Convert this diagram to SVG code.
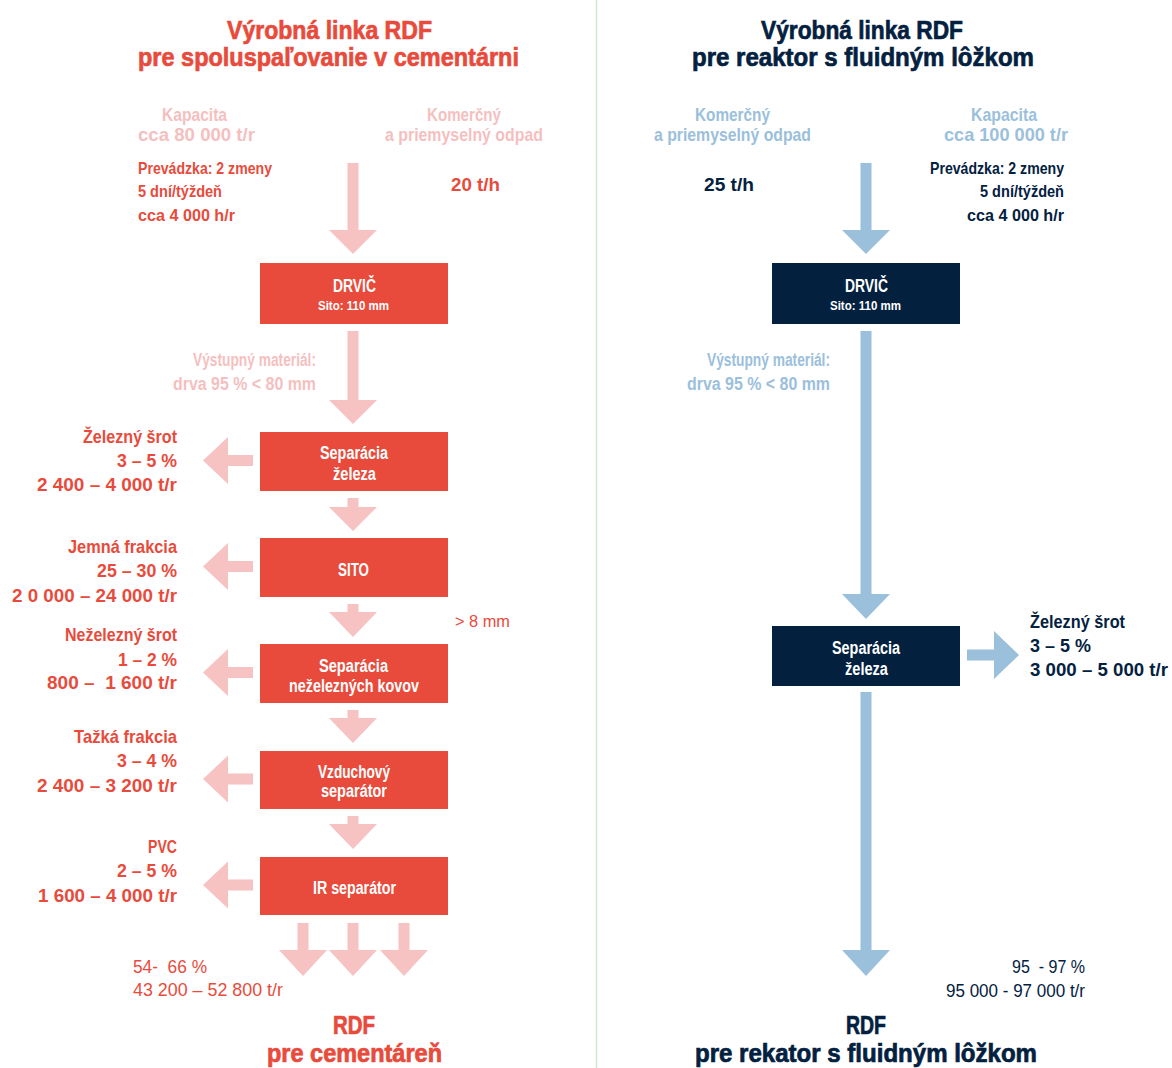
<svg xmlns="http://www.w3.org/2000/svg" width="1172" height="1068" viewBox="0 0 1172 1068">
  <style>
    text { font-family: "Liberation Sans Narrow", "Liberation Sans", "DejaVu Sans Condensed", sans-serif; font-stretch: condensed; font-weight: bold; }
    .reg { font-weight: normal; }
    .red { fill: #e84b3c; }
    .pink { fill: #f5bfc0; }
    .navy { fill: #03213f; }
    .blue { fill: #9bc0dc; }
    .white { fill: #ffffff; }
    .box-red { fill: #e84b3c; }
    .box-navy { fill: #03213f; }
    .arr-pink { fill: #f6c2c2; }
    .arr-blue { fill: #9bc0dc; }
    .title { font-size: 26.5px; stroke-width: 0.7px; }
    .product { font-size: 25px; stroke-width: 0.7px; }
    .heavy-red { stroke: #e84b3c; }
    .heavy-navy { stroke: #03213f; }
    .sub { font-size: 18.5px; }
    .info { font-size: 16.5px; }
    .lbl { font-size: 18.5px; }
    .node { font-size: 18px; }
  </style>

  <rect width="1172" height="1068" fill="#ffffff"/>

  <!-- divider between the two lines -->
  <line x1="596.5" y1="0" x2="596.5" y2="1068" stroke="#cfe8cf" stroke-width="1.5"/>

  <!-- headings -->
  <g id="title-left">
    <text class="title red heavy-red" x="227" y="39" textLength="205" lengthAdjust="spacingAndGlyphs">Výrobná linka RDF</text>
    <text class="title red heavy-red" x="138" y="66" textLength="381" lengthAdjust="spacingAndGlyphs">pre spoluspaľovanie v cementárni</text>
  </g>
  <g id="title-right">
    <text class="title navy heavy-navy" x="761" y="39" textLength="202" lengthAdjust="spacingAndGlyphs">Výrobná linka RDF</text>
    <text class="title navy heavy-navy" x="692" y="66" textLength="342" lengthAdjust="spacingAndGlyphs">pre reaktor s fluidným lôžkom</text>
  </g>

  <!-- connectors -->
  <g id="connectors">
    <!-- left line, vertical flow -->
    <polygon class="arr-pink" points="347.5,163 358.5,163 358.5,230 377,230 353,254 329,230 347.5,230"/>
    <polygon class="arr-pink" points="347.5,331 358.5,331 358.5,400 377,400 353,424 329,400 347.5,400"/>
    <polygon class="arr-pink" points="347.5,498 358.5,498 358.5,507 377,507 353,531 329,507 347.5,507"/>
    <polygon class="arr-pink" points="347.5,604 358.5,604 358.5,612 377,612 353,637 329,612 347.5,612"/>
    <polygon class="arr-pink" points="347.5,710 358.5,710 358.5,718 377,718 353,743 329,718 347.5,718"/>
    <polygon class="arr-pink" points="347.5,816 358.5,816 358.5,824 377,824 353,849 329,824 347.5,824"/>
    <polygon class="arr-pink" points="297.5,923 308.5,923 308.5,950 327,950 303,976 279,950 297.5,950"/>
    <polygon class="arr-pink" points="347.5,923 358.5,923 358.5,950 377,950 353,976 329,950 347.5,950"/>
    <polygon class="arr-pink" points="398.5,923 409.5,923 409.5,950 428,950 404,976 380,950 398.5,950"/>
    <!-- left line, side outputs -->
    <polygon class="arr-pink" points="253,455 253,466 228,466 228,484 203,460.5 228,437 228,455"/>
    <polygon class="arr-pink" points="253,561 253,572 228,572 228,590 203,566.5 228,543 228,561"/>
    <polygon class="arr-pink" points="253,667 253,678 228,678 228,696 203,672.5 228,649 228,667"/>
    <polygon class="arr-pink" points="253,773.5 253,784.5 228,784.5 228,802.5 203,779 228,755.5 228,773.5"/>
    <polygon class="arr-pink" points="253,879.5 253,890.5 228,890.5 228,908.5 203,885 228,861.5 228,879.5"/>
    <!-- right line -->
    <polygon class="arr-blue" points="860.5,163 871.5,163 871.5,230 890,230 866,254 842,230 860.5,230"/>
    <polygon class="arr-blue" points="860.5,331 871.5,331 871.5,594 890,594 866,619 842,594 860.5,594"/>
    <polygon class="arr-blue" points="860.5,692 871.5,692 871.5,950 890,950 866,976 842,950 860.5,950"/>
    <polygon class="arr-blue" points="967,649.5 994,649.5 994,631 1019,655 994,679 994,660.5 967,660.5"/>
  </g>

  <!-- left line: inputs -->
  <g id="input-left">
    <text class="sub pink" x="162" y="121" textLength="65" lengthAdjust="spacingAndGlyphs">Kapacita</text>
    <text class="sub pink" x="138" y="141" textLength="117" lengthAdjust="spacingAndGlyphs">cca 80 000 t/r</text>
    <text class="sub pink" x="427" y="121" textLength="74" lengthAdjust="spacingAndGlyphs">Komerčný</text>
    <text class="sub pink" x="385" y="141" textLength="158" lengthAdjust="spacingAndGlyphs">a priemyselný odpad</text>
    <text class="info red" x="138" y="174" textLength="134" lengthAdjust="spacingAndGlyphs">Prevádzka: 2 zmeny</text>
    <text class="info red" x="138" y="197" textLength="84" lengthAdjust="spacingAndGlyphs">5 dní/týždeň</text>
    <text class="info red" x="138" y="221" textLength="97" lengthAdjust="spacingAndGlyphs">cca 4 000 h/r</text>
    <text class="sub red" x="451" y="191" textLength="49" lengthAdjust="spacingAndGlyphs">20 t/h</text>
  </g>

  <!-- right line: inputs -->
  <g id="input-right">
    <text class="sub blue" x="695" y="121" textLength="75" lengthAdjust="spacingAndGlyphs">Komerčný</text>
    <text class="sub blue" x="654" y="141" textLength="157" lengthAdjust="spacingAndGlyphs">a priemyselný odpad</text>
    <text class="sub blue" x="971" y="121" textLength="66" lengthAdjust="spacingAndGlyphs">Kapacita</text>
    <text class="sub blue" x="944" y="141" textLength="124" lengthAdjust="spacingAndGlyphs">cca 100 000 t/r</text>
    <text class="info navy" x="930" y="174" textLength="134" lengthAdjust="spacingAndGlyphs">Prevádzka: 2 zmeny</text>
    <text class="info navy" x="980" y="197" textLength="84" lengthAdjust="spacingAndGlyphs">5 dní/týždeň</text>
    <text class="info navy" x="967" y="221" textLength="97" lengthAdjust="spacingAndGlyphs">cca 4 000 h/r</text>
    <text class="sub navy" x="704" y="191" textLength="50" lengthAdjust="spacingAndGlyphs">25 t/h</text>
  </g>

  <!-- left line: process nodes -->
  <g id="drvic-left">
    <rect class="box-red" x="260" y="263" width="188" height="61"/>
    <text class="white" style="font-size:17.5px" x="333" y="292" textLength="43" lengthAdjust="spacingAndGlyphs">DRVIČ</text>
    <text class="white" style="font-size:13.5px" x="318" y="310" textLength="71" lengthAdjust="spacingAndGlyphs">Sito: 110 mm</text>
  </g>
  <g id="vystup-left">
    <text class="node pink" x="193" y="366" textLength="123" lengthAdjust="spacingAndGlyphs">Výstupný materiál:</text>
    <text class="node pink" x="173" y="390" textLength="143" lengthAdjust="spacingAndGlyphs">drva 95 % &lt; 80 mm</text>
  </g>
  <g id="separacia-zeleza-left">
    <rect class="box-red" x="260" y="432" width="188" height="59"/>
    <text class="node white" x="320" y="459" textLength="68" lengthAdjust="spacingAndGlyphs">Separácia</text>
    <text class="node white" x="333" y="480" textLength="43" lengthAdjust="spacingAndGlyphs">železa</text>
  </g>
  <g id="sito">
    <rect class="box-red" x="260" y="538" width="188" height="59"/>
    <text class="white" style="font-size:19px" x="338" y="576" textLength="31" lengthAdjust="spacingAndGlyphs">SITO</text>
    <text class="red reg" style="font-size:17px" x="455" y="627" textLength="55" lengthAdjust="spacingAndGlyphs">&gt; 8 mm</text>
  </g>
  <g id="separacia-nezeleznych">
    <rect class="box-red" x="260" y="644" width="188" height="59"/>
    <text class="node white" x="319" y="672" textLength="69" lengthAdjust="spacingAndGlyphs">Separácia</text>
    <text class="node white" x="289" y="692" textLength="130" lengthAdjust="spacingAndGlyphs">neželezných kovov</text>
  </g>
  <g id="vzduchovy-separator">
    <rect class="box-red" x="260" y="751" width="188" height="58"/>
    <text class="node white" x="318" y="778" textLength="72" lengthAdjust="spacingAndGlyphs">Vzduchový</text>
    <text class="node white" x="321" y="797" textLength="66" lengthAdjust="spacingAndGlyphs">separátor</text>
  </g>
  <g id="ir-separator">
    <rect class="box-red" x="260" y="857" width="188" height="58"/>
    <text class="node white" x="313" y="894" textLength="83" lengthAdjust="spacingAndGlyphs">IR separátor</text>
  </g>

  <!-- left line: side outputs -->
  <g id="out-zelezny-srot-left">
    <text class="lbl red" x="83" y="443" textLength="94" lengthAdjust="spacingAndGlyphs">Železný šrot</text>
    <text class="lbl red" x="117" y="467" textLength="60" lengthAdjust="spacingAndGlyphs">3 – 5 %</text>
    <text class="lbl red" x="37" y="491" textLength="140" lengthAdjust="spacingAndGlyphs">2 400 – 4 000 t/r</text>
  </g>
  <g id="out-jemna-frakcia">
    <text class="lbl red" x="68" y="553" textLength="109" lengthAdjust="spacingAndGlyphs">Jemná frakcia</text>
    <text class="lbl red" x="97" y="577" textLength="80" lengthAdjust="spacingAndGlyphs">25 – 30 %</text>
    <text class="lbl red" x="12" y="602" textLength="165" lengthAdjust="spacingAndGlyphs">2 0 000 – 24 000 t/r</text>
  </g>
  <g id="out-nezelezny-srot">
    <text class="lbl red" x="65" y="641" textLength="112" lengthAdjust="spacingAndGlyphs">Neželezný šrot</text>
    <text class="lbl red" x="118" y="666" textLength="59" lengthAdjust="spacingAndGlyphs">1 – 2 %</text>
    <text class="lbl red" x="47" y="689" textLength="130" lengthAdjust="spacingAndGlyphs">800 –&#160; 1 600 t/r</text>
  </g>
  <g id="out-tazka-frakcia">
    <text class="lbl red" x="74" y="743" textLength="103" lengthAdjust="spacingAndGlyphs">Tažká frakcia</text>
    <text class="lbl red" x="117" y="767" textLength="60" lengthAdjust="spacingAndGlyphs">3 – 4 %</text>
    <text class="lbl red" x="37" y="792" textLength="140" lengthAdjust="spacingAndGlyphs">2 400 – 3 200 t/r</text>
  </g>
  <g id="out-pvc">
    <text class="lbl red" x="148" y="853" textLength="29" lengthAdjust="spacingAndGlyphs">PVC</text>
    <text class="lbl red" x="117" y="877" textLength="60" lengthAdjust="spacingAndGlyphs">2 – 5 %</text>
    <text class="lbl red" x="38" y="902" textLength="139" lengthAdjust="spacingAndGlyphs">1 600 – 4 000 t/r</text>
  </g>

  <!-- left line: product -->
  <g id="rdf-left">
    <text class="red reg" style="font-size:19px" x="133" y="973" textLength="74" lengthAdjust="spacingAndGlyphs">54-&#160; 66 %</text>
    <text class="red reg" style="font-size:19px" x="133" y="996" textLength="150" lengthAdjust="spacingAndGlyphs">43 200 – 52 800 t/r</text>
    <text class="product red heavy-red" x="333" y="1034" textLength="42" lengthAdjust="spacingAndGlyphs">RDF</text>
    <text class="product red heavy-red" x="267" y="1062" textLength="175" lengthAdjust="spacingAndGlyphs">pre cementáreň</text>
  </g>

  <!-- right line: process nodes -->
  <g id="drvic-right">
    <rect class="box-navy" x="772" y="263" width="188" height="61"/>
    <text class="white" style="font-size:17.5px" x="845" y="292" textLength="43" lengthAdjust="spacingAndGlyphs">DRVIČ</text>
    <text class="white" style="font-size:13.5px" x="830" y="310" textLength="71" lengthAdjust="spacingAndGlyphs">Sito: 110 mm</text>
  </g>
  <g id="vystup-right">
    <text class="node blue" x="707" y="366" textLength="123" lengthAdjust="spacingAndGlyphs">Výstupný materiál:</text>
    <text class="node blue" x="687" y="390" textLength="143" lengthAdjust="spacingAndGlyphs">drva 95 % &lt; 80 mm</text>
  </g>
  <g id="separacia-zeleza-right">
    <rect class="box-navy" x="772" y="626" width="188" height="60"/>
    <text class="node white" x="832" y="654" textLength="68" lengthAdjust="spacingAndGlyphs">Separácia</text>
    <text class="node white" x="845" y="675" textLength="43" lengthAdjust="spacingAndGlyphs">železa</text>
  </g>
  <g id="out-zelezny-srot-right">
    <text class="lbl navy" x="1030" y="628" textLength="95" lengthAdjust="spacingAndGlyphs">Železný šrot</text>
    <text class="lbl navy" x="1030" y="652" textLength="61" lengthAdjust="spacingAndGlyphs">3 – 5 %</text>
    <text class="lbl navy" x="1030" y="676" textLength="138" lengthAdjust="spacingAndGlyphs">3 000 – 5 000 t/r</text>
  </g>

  <!-- right line: product -->
  <g id="rdf-right">
    <text class="navy reg" style="font-size:19px" x="1012" y="973" textLength="73" lengthAdjust="spacingAndGlyphs">95&#160; - 97 %</text>
    <text class="navy reg" style="font-size:19px" x="946" y="997" textLength="139" lengthAdjust="spacingAndGlyphs">95 000 - 97 000 t/r</text>
    <text class="product navy heavy-navy" x="846" y="1034" textLength="40" lengthAdjust="spacingAndGlyphs">RDF</text>
    <text class="product navy heavy-navy" x="695" y="1062" textLength="342" lengthAdjust="spacingAndGlyphs">pre rekator s fluidným lôžkom</text>
  </g>
</svg>
